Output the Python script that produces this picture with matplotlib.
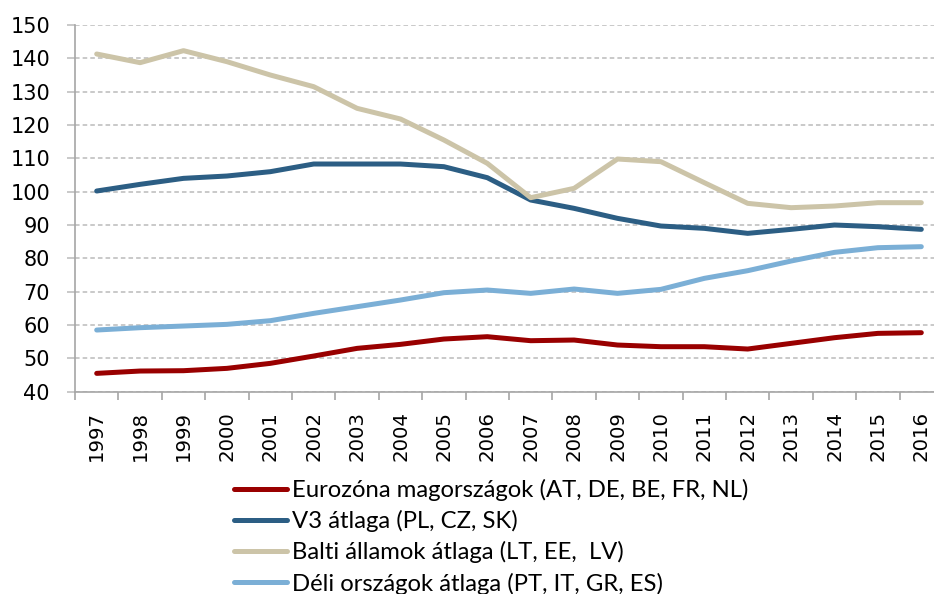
import matplotlib

matplotlib.use("Agg")
import matplotlib.pyplot as plt
import numpy as np
from matplotlib.ticker import FixedLocator

years = [str(y) for y in range(1997, 2017)]

eurozone_core = [45.5, 46.2, 46.3, 47.0, 48.5, 50.7, 53.0, 54.2, 55.8, 56.5,
                 55.3, 55.5, 54.0, 53.5, 53.5, 52.8, 54.5, 56.2, 57.5, 57.7]
v3_avg = [100.2, 102.2, 104.0, 104.7, 106.0, 108.3, 108.3, 108.3, 107.5, 104.2,
          97.5, 95.0, 92.0, 89.7, 89.0, 87.5, 88.7, 90.0, 89.5, 88.7]
baltic_avg = [141.3, 138.7, 142.3, 139.0, 135.0, 131.5, 125.0, 121.8, 115.5, 108.5,
              98.2, 101.0, 109.8, 109.0, 102.7, 96.5, 95.2, 95.7, 96.7, 96.7]
southern_avg = [58.5, 59.2, 59.7, 60.2, 61.3, 63.5, 65.5, 67.5, 69.7, 70.5,
                69.5, 70.8, 69.5, 70.7, 74.0, 76.3, 79.2, 81.8, 83.2, 83.5]

labels = [
    "Eurozóna magországok (AT, DE, BE, FR, NL)",
    "V3 átlaga (PL, CZ, SK)",
    "Balti államok átlaga (LT, EE,  LV)",
    "Déli országok átlaga (PT, IT, GR, ES)",
]
colors = ["#990000", "#2C5E84", "#CCC4A8", "#7BAFD6"]
series = [eurozone_core, v3_avg, baltic_avg, southern_avg]

fig = plt.figure(figsize=(9.34, 5.94), dpi=100)
ax = fig.add_axes([75 / 934, 1 - 391.7 / 594, 868 / 934, (391.7 - 25) / 594])

x = np.arange(len(years))
handles = []
for values, color, label in zip(series, colors, labels):
    (line,) = ax.plot(x, values, color=color, linewidth=3.6, label=label,
                      solid_capstyle="round", solid_joinstyle="round")
    handles.append(line)

ax.set_xlim(-0.5, len(years) - 0.5)
ax.set_ylim(40, 150)
ax.set_yticks(np.arange(40, 151, 10))
ax.yaxis.grid(True, color="#BBBBBB", linestyle=(0, (3, 2)), linewidth=1.1)
ax.set_axisbelow(True)

ax.set_xticks(x)
ax.set_xticklabels(years, rotation=90, fontsize=14.2)
ax.xaxis.set_minor_locator(FixedLocator(np.arange(-0.5, len(years), 1)))
ax.tick_params(axis="x", which="major", length=0, pad=14)
ax.tick_params(axis="x", which="minor", length=6, color="#A6A6A6", width=1.2)
ax.tick_params(axis="y", length=6, color="#BBBBBB", width=1.1, pad=12, labelsize=15)

for side in ["top", "right"]:
    ax.spines[side].set_visible(False)
for side in ["left", "bottom"]:
    ax.spines[side].set_color("#A6A6A6")
    ax.spines[side].set_linewidth(1.2)

fig.legend(
    handles=handles,
    labels=labels,
    loc="upper left",
    bbox_to_anchor=(222 / 934, 1 - 467 / 594),
    frameon=False,
    prop={"family": ["Lato", "DejaVu Sans"], "size": 17.2},
    handlelength=2.2,
    handletextpad=0.25,
    labelspacing=0.38,
    borderpad=0,
)

fig.savefig("out.png", dpi=100)
